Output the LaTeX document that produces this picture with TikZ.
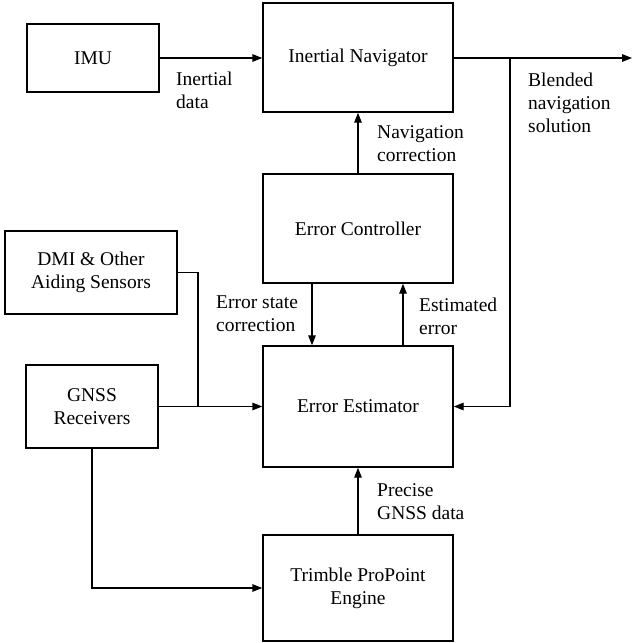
\documentclass[tikz,border=0pt]{standalone}
\usepackage{fontspec}
\setmainfont{Liberation Serif}
\usetikzlibrary{arrows.meta}
\begin{document}
\begin{tikzpicture}[x=1pt,y=-1pt,
  box/.style={draw,line width=1.4pt,rectangle,inner sep=0pt,align=center,font=\fontsize{19.5}{23}\selectfont},
  lbl/.style={anchor=west,inner sep=0pt,align=left,font=\fontsize{19.5}{23}\selectfont},
  conn/.style={line width=1.4pt},
  arr/.style={conn,-{Triangle[length=10pt,width=7.5pt]}}]
\useasboundingbox (0,0) rectangle (633,643);
\node[box,minimum width=132,minimum height=68] (IMU) at (93,58) {IMU};
\node[box,minimum width=190,minimum height=109] (IN) at (358,57.5) {Inertial Navigator};
\node[box,minimum width=190,minimum height=109] (EC) at (358,228.5) {Error Controller};
\node[box,minimum width=172,minimum height=83] (DMI) at (91,272.5) {DMI \& Other\\Aiding Sensors};
\node[box,minimum width=132,minimum height=83] (GNSS) at (92,406.5) {GNSS\\Receivers};
\node[box,minimum width=190,minimum height=121] (EE) at (358,406.5) {Error Estimator};
\node[box,minimum width=190,minimum height=106] (TPE) at (358,588) {Trimble ProPoint\\Engine};
\coordinate (out) at (632,58);
\coordinate (br) at (510,58);
\coordinate (j) at (198,406.5);
\coordinate (c1) at (312,0);
\coordinate (c2) at (403,0);
\draw[arr] (IMU.east) -- (IMU.east -| IN.west);
\draw[arr] (IN.east |- out) -- (out);
\draw[arr] (br) |- (EE.east);
\draw[arr] (EC.north) -- (IN.south);
\draw[arr] (c1 |- EC.south) -- (c1 |- EE.north);
\draw[arr] (c2 |- EE.north) -- (c2 |- EC.south);
\draw[conn] (DMI.east) -| (j);
\draw[arr] (GNSS.east) -- (EE.west);
\draw[arr] (GNSS.south) |- (TPE.west);
\draw[arr] (TPE.north) -- (EE.south);
\node[lbl] (l1) at (176,90.5) {Inertial\\data};
\node[lbl] (l2) at (528,103) {Blended\\navigation\\solution};
\node[lbl] (l3) at (377,143.5) {Navigation\\correction};
\node[lbl] (l4) at (216,314) {Error state\\correction};
\node[lbl] (l5) at (419,316) {Estimated\\error};
\node[lbl] (l6) at (377,501.5) {Precise\\GNSS data};
\end{tikzpicture}
\end{document}
